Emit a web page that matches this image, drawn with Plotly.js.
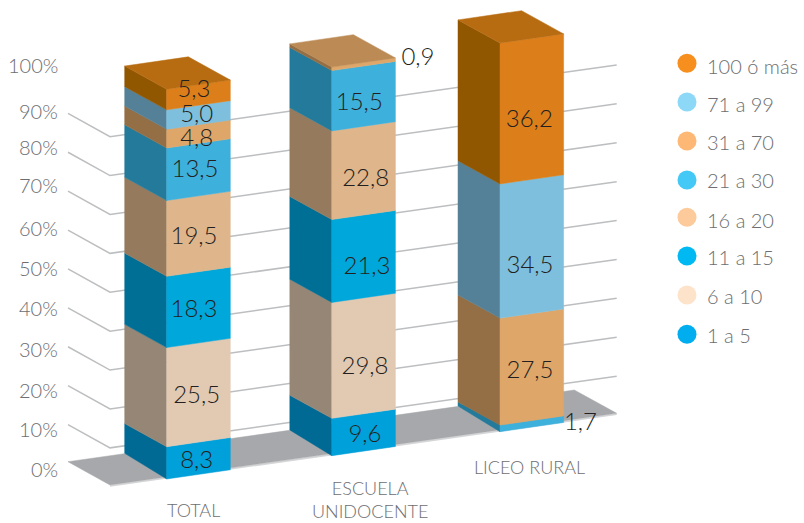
<!DOCTYPE html>
<html>
<head>
<meta charset="utf-8">
<script src="https://cdn.plot.ly/plotly-3.0.1.min.js"></script>
<style>html,body{margin:0;padding:0;background:#fff}#chart{width:804px;height:523px}</style>
</head>
<body>
<div id="chart"></div>
<script>
// Categories and percentage shares per enrolment band
const categories = ['TOTAL', 'ESCUELA<br>UNIDOCENTE', 'LICEO RURAL'];
const bandNames = ['1 a 5', '6 a 10', '11 a 15', '16 a 20', '21 a 30', '31 a 70', '71 a 99', '100 ó más'];
const band1to5 = [8.3, 9.6, 0];
const band6to10 = [25.5, 29.8, 0];
const band11to15 = [18.3, 21.3, 0];
const band16to20 = [19.5, 22.8, 0];
const band21to30 = [13.5, 15.5, 1.7];
const band31to70 = [4.8, 0.9, 27.5];
const band71to99 = [5.0, 0, 34.5];
const band100plus = [5.3, 0, 36.2];
const percentTicks = [0, 10, 20, 30, 40, 50, 60, 70, 80, 90, 100];

const bands = [band1to5, band6to10, band11to15, band16to20, band21to30, band31to70, band71to99, band100plus];

// Palette: front face, shaded side, top cap, legend swatch
const frontColors = ['#00a0db', '#e2c9b2', '#00a7da', '#dfb58b', '#3eb0dc', '#dfa669', '#7ebfdd', '#dc7f1a'];
const sideColors = ['#006a94', '#968676', '#006f96', '#967a5d', '#237a9b', '#946e44', '#548197', '#915600'];
const topColors = ['#00a0db', '#e2c9b2', '#00a7da', '#dfb58b', '#3eb0dc', '#bb8a55', '#7ebfdd', '#b86c12'];
const swatchColors = ['#00aeef', '#fde3ca', '#00b9f2', '#fdcb9b', '#44c8f5', '#fdb876', '#8dd7f7', '#f78f1e'];

const FONT = 'Lato, sans-serif';
const GREY = '#6d6e71';
const INK = '#231f20';

// Oblique projection of the box geometry: y stays in percent units
const K = 3.89;            // screen pixels per percent point
const FLOOR_Y = 485;       // screen row of the floor's near-left corner
const WIDTH = [63.6, -9.2];
const DEPTH_X = -42;
const DEPTH_RISE = 23.2;   // rows climbed going back along the box
const FOOT_RISE = 25.7;    // the back foot of each box sits a little higher
const TEXT_SHIFT = 2.5;    // text traces sit slightly above their anchor row
const originX = [166.7, 331.8, 500];
const originRow = [479, 455.7, 431.7];
const rowToPct = row => (FLOOR_Y - row) / K;

function project(i, w, d, pct) {
  const rise = pct === 0 ? FOOT_RISE : DEPTH_RISE;
  return [
    originX[i] + w * WIDTH[0] + d * DEPTH_X,
    rowToPct(originRow[i] + w * WIDTH[1] - d * rise) + pct
  ];
}

function polygon(points, color) {
  return {
    type: 'scatter', mode: 'lines', fill: 'toself', fillcolor: color,
    x: points.map(p => p[0]).concat(points[0][0]),
    y: points.map(p => p[1]).concat(points[0][1]),
    line: {color: color, width: 0.5},
    hoverinfo: 'skip', showlegend: false
  };
}

const traces = [];

// Floor slab with its pale front lip
const floorCorners = {left: [68, 461.7], near: [110, 485], right: [616.7, 413.3], far: [574.3, 390]};
const toPlot = p => [p[0], rowToPct(p[1])];
traces.push({
  type: 'scatter', mode: 'lines',
  x: [floorCorners.near[0], floorCorners.right[0]],
  y: [rowToPct(floorCorners.near[1] + 1), rowToPct(floorCorners.right[1] + 1)],
  line: {color: '#d5d6d8', width: 1.5}, hoverinfo: 'skip', showlegend: false
});
traces.push(polygon([floorCorners.left, floorCorners.near, floorCorners.right, floorCorners.far].map(toPlot), '#a7a8ab'));

// Gridlines run along the left and near edges of the floor, every ten percent
const GRID_DROP = 0.45;
const gridX = [], gridY = [];
percentTicks.filter(t => t > 0 && t < 100).forEach(t => {
  [floorCorners.left, floorCorners.near, floorCorners.right].forEach(c => {
    gridX.push(c[0]);
    gridY.push(rowToPct(c[1]) + t - GRID_DROP);
  });
  gridX.push(null);
  gridY.push(null);
});
traces.push({
  type: 'scatter', mode: 'lines', x: gridX, y: gridY,
  line: {color: '#bcbec0', width: 1.5}, hoverinfo: 'skip', showlegend: false
});

// Where each value label sits, by category then band, as [column, row]
const labelSpots = [
  [[196.7, 459], [196.7, 394], [194, 308], [194, 235.7], [195, 168], [196.7, 137.5], [196.7, 113], [194, 88]],
  [[365, 433], [365, 365], [367, 265], [365.7, 177.7], [359.3, 101.7], [418, 56]],
  [null, null, null, null, [580.5, 421], [530, 369], [530, 264], [529.3, 118.3]]
];

// Stacked boxes plus their value labels
const labelX = [], labelY = [], labelText = [];
categories.forEach((name, i) => {
  let base = 0, topBand = 0;
  bands.forEach((values, b) => {
    const v = values[i];
    if (!v) return;
    const top = base + v;
    traces.push(polygon([project(i, 0, 0, base), project(i, 0, 0, top), project(i, 0, 1, top), project(i, 0, 1, base)], sideColors[b]));
    traces.push(polygon([project(i, 0, 0, base), project(i, 1, 0, base), project(i, 1, 0, top), project(i, 0, 0, top)], frontColors[b]));
    labelX.push(labelSpots[i][b][0]);
    labelY.push(rowToPct(labelSpots[i][b][1] + TEXT_SHIFT));
    labelText.push(v.toFixed(1).replace('.', ','));
    base = top;
    topBand = b;
  });
  traces.push(polygon([project(i, 0, 0, base), project(i, 1, 0, base), project(i, 1, 1, base), project(i, 0, 1, base)], topColors[topBand]));
});
traces.push({
  type: 'scatter', mode: 'text', x: labelX, y: labelY, text: labelText,
  textposition: 'middle center',
  textfont: {family: FONT, size: 24, color: INK, weight: 300},
  hoverinfo: 'skip', showlegend: false
});

// Legend column, largest band on top
const legendRows = [63.3, 102, 141, 180, 217.3, 256, 295, 334.3];
const legendTextRows = [66, 104, 142, 180, 220, 257, 296, 335];
const legendOrder = bandNames.map((_, b) => bandNames.length - 1 - b);
traces.push({
  type: 'scatter', mode: 'markers',
  x: legendOrder.map(() => 687),
  y: legendRows.map(rowToPct),
  marker: {size: 19, color: legendOrder.map(b => swatchColors[b]), line: {width: 0}},
  hoverinfo: 'skip', showlegend: false
});
traces.push({
  type: 'scatter', mode: 'text',
  x: legendOrder.map(() => 707),
  y: legendTextRows.map(r => rowToPct(r + TEXT_SHIFT)),
  text: legendOrder.map(b => bandNames[b]),
  textposition: 'middle right',
  textfont: {family: FONT, size: 20, color: GREY, weight: 300},
  hoverinfo: 'skip', showlegend: false
});

// Percent scale beside the left wall and category names under the boxes
const tickRows = [469, 429, 390, 349, 308, 268, 227.7, 185, 147.3, 110.7, 65];
const categoryAnchors = [[193, 510], [370, 499], [529.5, 467]];
const annotations = percentTicks.map((t, n) => ({
  x: 59.5, y: rowToPct(tickRows[n]), xref: 'x', yref: 'y', text: t + '%', showarrow: false,
  xanchor: 'right', yanchor: 'middle',
  font: {family: FONT, size: 20, color: GREY, weight: 300}
})).concat(categories.map((c, i) => ({
  x: categoryAnchors[i][0], y: rowToPct(categoryAnchors[i][1]), xref: 'x', yref: 'y', text: c, showarrow: false,
  xanchor: 'center', yanchor: 'middle', align: 'center',
  font: {family: FONT, size: 18, color: GREY, weight: 300}
})));

const layout = {
  width: 804, height: 523,
  margin: {l: 0, r: 0, t: 0, b: 0},
  paper_bgcolor: '#ffffff', plot_bgcolor: '#ffffff',
  showlegend: false,
  xaxis: {range: [0, 804], visible: false, fixedrange: true},
  yaxis: {range: [rowToPct(523), rowToPct(0)], visible: false, fixedrange: true},
  annotations: annotations
};

Plotly.newPlot('chart', traces, layout, {displayModeBar: false, staticPlot: true});
</script>
</body>
</html>
